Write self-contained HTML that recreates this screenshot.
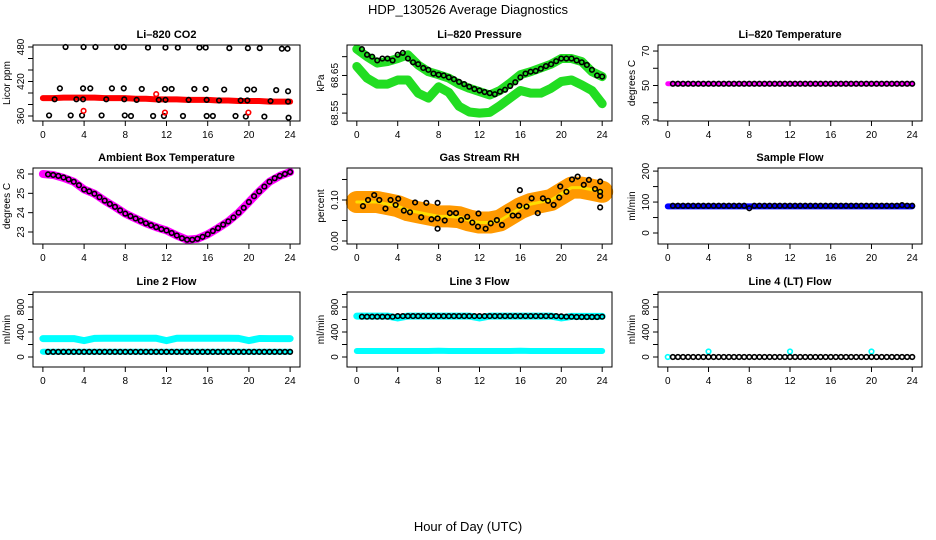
<!DOCTYPE html>
<html><head><meta charset="utf-8"><style>
html,body{margin:0;padding:0;background:#fff;}
svg{display:block;font-family:"Liberation Sans",Arial,sans-serif;}
</style></head><body>
<svg id="c" width="936" height="540" viewBox="0 0 936 540">
<text x="468" y="14" text-anchor="middle" font-size="13">HDP_130526  Average Diagnostics</text>
<text x="468" y="531" text-anchor="middle" font-size="13">Hour of Day (UTC)</text>
</svg>
<script>
// ---- data ----
const xTicks=[0,4,8,12,16,20,24];
const co2Band=[391,391,392,392,392,392,391,391,391,390,390,389,389,389,388,388,388,387,387,386,386,386,385,385,385];
const co2BlackT=[2.2,3.95,5.1,7.2,7.85,10.2,11.9,13.1,15.2,15.8,18.1,19.9,21.05,23.2,23.75,1.65,3.9,4.6,6.7,7.85,9.6,11.85,12.5,14.7,15.8,17.6,19.85,20.5,22.65,23.8,1.14,3.25,3.9,6.15,7.9,9.1,11.25,11.9,14.15,15.9,17.1,19.2,19.85,22.1,23.8,0.6,2.7,3.8,5.7,7.95,8.55,10.7,11.75,13.6,15.9,16.5,18.7,19.7,21.5,23.85];
const co2BlackV=[480,480,480,480,480,479,479,479,479,479,478,478,478,477,477,408,408,408,408,408,407,407,407,407,407,406,406,406,405,403,389,389,389,389,389,388,388,388,388,388,387,387,387,386,385,361,361,361,361,361,360,360,360,360,360,360,360,359,359,357];
const co2RedT=[11.0,3.95,11.85,19.95];
const co2RedV=[398,369,366,366];
const presUpper=[68.72,68.70,68.683,68.687,68.695,68.705,68.678,68.66,68.652,68.643,68.627,68.616,68.607,68.598,68.61,68.63,68.652,68.66,68.67,68.68,68.695,68.695,68.687,68.66,68.647];
const presLower=[68.674,68.643,68.627,68.627,68.638,68.638,68.603,68.59,68.62,68.605,68.568,68.553,68.55,68.552,68.57,68.59,68.61,68.603,68.603,68.616,68.634,68.638,68.625,68.61,68.575];
const presBlack=[68.72,68.705,68.70,68.69,68.695,68.695,68.69,68.705,68.71,68.695,68.685,68.68,68.67,68.665,68.655,68.652,68.65,68.645,68.64,68.633,68.627,68.62,68.614,68.61,68.606,68.603,68.60,68.607,68.612,68.622,68.632,68.645,68.655,68.66,68.662,68.668,68.675,68.68,68.688,68.695,68.695,68.695,68.69,68.685,68.678,68.665,68.65,68.647];
const tempBand=[51,51,51,51,51,51,51,51,51,51,51,51,51,51,51,51,51,51,51,51,51,51,51,51,51];
const tempBlack=[51,51,51,51,51,51,51,51,51,51,51,51,51,51,51,51,51,51,51,51,51,51,51,51,51,51,51,51,51,51,51,51,51,51,51,51,51,51,51,51,51,51,51,51,51,51,51,51];
const ambBand=[26.0,25.95,25.8,25.6,25.2,24.98,24.62,24.3,23.95,23.7,23.45,23.25,23.08,22.82,22.6,22.65,22.88,23.2,23.55,24.0,24.55,25.1,25.6,25.9,26.1];
const ambBlack=[25.98,25.95,25.9,25.82,25.72,25.6,25.42,25.2,25.1,24.98,24.8,24.62,24.45,24.3,24.12,23.95,23.82,23.7,23.58,23.45,23.35,23.25,23.15,23.08,22.95,22.82,22.68,22.6,22.6,22.65,22.75,22.88,23.05,23.2,23.38,23.55,23.75,24.0,24.25,24.55,24.85,25.1,25.35,25.6,25.78,25.9,26.0,26.1];
const rhBand=[0.095,0.095,0.095,0.09,0.085,0.075,0.07,0.065,0.06,0.06,0.058,0.05,0.045,0.045,0.05,0.065,0.08,0.09,0.095,0.1,0.115,0.13,0.13,0.125,0.12];
const rhBlackT=[0.6,1.1,1.7,2.2,2.8,3.3,3.8,4.05,4.6,5.2,5.7,6.3,6.8,7.3,7.9,7.9,7.9,8.6,9.1,9.7,10.2,10.8,11.3,11.85,11.9,12.6,13.1,13.7,14.2,14.75,15.25,15.8,15.9,15.95,16.6,17.1,17.7,18.2,18.7,19.25,19.8,19.9,20.5,21.05,21.6,22.2,22.7,23.3,23.8,23.8,23.8,23.8];
const rhBlackV=[0.085,0.10,0.112,0.10,0.079,0.10,0.088,0.103,0.074,0.07,0.094,0.058,0.093,0.053,0.093,0.055,0.03,0.05,0.068,0.068,0.051,0.059,0.045,0.035,0.067,0.03,0.043,0.051,0.039,0.075,0.062,0.062,0.086,0.124,0.084,0.104,0.068,0.104,0.098,0.088,0.106,0.133,0.12,0.15,0.157,0.137,0.149,0.127,0.145,0.11,0.12,0.082];
const sfBand=[86,86,86,86,86,86,86,86,86,86,86,86,86,86,86,86,86,86,86,86,86,86,86,86,86];
const sfBlack=[88,88,88,88,88,88,88,88,88,88,88,88,88,88,88,80,88,88,88,88,88,88,88,88,88,88,88,88,88,88,88,88,88,88,88,88,88,88,88,88,88,88,88,88,88,90,88,88];
const l2Upper=[295,295,295,295,262,298,300,300,300,300,300,300,262,300,300,300,300,300,300,298,262,296,295,295,295];
const l2Lower=[85,85,85,85,85,85,85,85,85,85,85,85,85,85,85,85,85,85,85,85,85,85,85,85,85];
const l2Black=[82,82,82,82,82,82,82,82,82,82,82,82,82,82,82,82,82,82,82,82,82,82,82,82,82,82,82,82,82,82,82,82,82,82,82,82,82,82,82,82,82,82,82,82,82,82,82,82];
const l3Upper=[655,655,655,655,625,655,655,655,655,655,655,655,625,655,655,655,655,655,655,655,625,650,650,650,650];
const l3Lower=[96,96,96,96,96,96,96,96,100,96,96,96,96,96,96,96,100,96,96,96,96,96,96,96,96];
const l3Black=[645,645,645,645,645,645,645,655,655,655,655,655,655,655,655,655,655,655,655,655,655,655,655,655,655,655,655,655,655,655,655,655,655,655,655,655,655,655,655,650,645,645,640,640,640,640,640,645];
const l4Black=[0,0,0,0,0,0,0,0,0,0,0,0,0,0,0,0,0,0,0,0,0,0,0,0,0,0,0,0,0,0,0,0,0,0,0,0,0,0,0,0,0,0,0,0,0,0,0,0];
const l4CyanT=[0,4,12,20];
const l4CyanV=[0,88,88,88];

const S='http://www.w3.org/2000/svg';
const svg=document.getElementById('c');
function mk(tag,parent){const e=document.createElementNS(S,tag);parent.appendChild(e);return e;}
const hourly=i=>i; const half=i=>0.5*(i+1);

function panel(name,title,ylab,box,ylim,yticks,ylabels){
  const g=mk('g',svg);
  
  
  const [x0,y0,x1,y1]=box;
  const sx=h=>x0+(h+0.96)/25.92*(x1-x0);
  const sy=v=>y1-(v-ylim[0])/(ylim[1]-ylim[0])*(y1-y0);
  const t=mk('text',g);t.textContent=title;
  t.setAttribute('x',(x0+x1)/2);t.setAttribute('y',y0-7);t.setAttribute('text-anchor','middle');
  t.setAttribute('font-size','11');t.setAttribute('font-weight','bold');
  
  
  const yl=mk('text',g);yl.textContent=ylab;
  const ly=(y0+y1)/2;
  yl.setAttribute('transform','translate('+(x0-23)+','+ly+') rotate(-90)');
  yl.setAttribute('text-anchor','middle');yl.setAttribute('font-size','10');
  
  
  const plot=mk('g',g);
  
  
  const ax=mk('g',g);
  
  
  const r=mk('rect',ax);
  r.setAttribute('x',x0);r.setAttribute('y',y0);r.setAttribute('width',x1-x0);r.setAttribute('height',y1-y0);
  r.setAttribute('fill','none');r.setAttribute('stroke','#000');r.setAttribute('stroke-width','1');
  
  
  xTicks.forEach(h=>{
    const l=mk('line',ax);l.setAttribute('x1',sx(h));l.setAttribute('x2',sx(h));l.setAttribute('y1',y1);l.setAttribute('y2',y1+5);l.setAttribute('stroke','#000');
    
    
    const tx=mk('text',ax);tx.textContent=h;tx.setAttribute('x',sx(h));tx.setAttribute('y',y1+17);tx.setAttribute('text-anchor','middle');tx.setAttribute('font-size','10');
    
    
  });
  yticks.forEach((v,i)=>{
    const l=mk('line',ax);l.setAttribute('x1',x0-5);l.setAttribute('x2',x0);l.setAttribute('y1',sy(v));l.setAttribute('y2',sy(v));l.setAttribute('stroke','#000');
    
    
    if(ylabels[i]!==''){
      const tx=mk('text',ax);tx.textContent=ylabels[i];
      tx.setAttribute('transform','translate('+(x0-9)+','+sy(v)+') rotate(-90)');
      tx.setAttribute('text-anchor','middle');tx.setAttribute('font-size','10');
      
      
    }
  });
  return {plot,sx,sy};
}
function band(p,vals,tf,color,w,nm){
  const pl=mk('polyline',p.plot);
  pl.setAttribute('points',vals.map((v,i)=>p.sx(tf(i))+','+p.sy(v)).join(' '));
  pl.setAttribute('fill','none');pl.setAttribute('stroke',color);pl.setAttribute('stroke-width',w);
  pl.setAttribute('stroke-linecap','round');pl.setAttribute('stroke-linejoin','round');
  
  
}
function pts(p,ts,vals,color,nm){
  vals.forEach((v,i)=>{
    const c=mk('circle',p.plot);
    c.setAttribute('cx',p.sx(typeof ts==='function'?ts(i):ts[i]));c.setAttribute('cy',p.sy(v));c.setAttribute('r','2.3');
    c.setAttribute('fill','none');c.setAttribute('stroke',color);c.setAttribute('stroke-width','1.6');
    
    
  });
}
const C1=[33,300],C2=[347,612],C3=[658,922];
const R1=[45,121],R2=[168,244],R3=[292,367];
const bx=(c,r)=>[c[0],r[0],c[1],r[1]];
const flowT=[0,200,400,600,800,1000],flowL=['0','','400','','800',''];

let p=panel('co2','Li\u2013820 CO2','Licor ppm',bx(C1,R1),[351.3,483.5],[360,380,400,420,440,460,480],['360','','','420','','','480']);
band(p,co2Band,hourly,'#ff0000',6,'co2-raw-band');
pts(p,co2BlackT,co2BlackV,'#000','co2-point');
pts(p,co2RedT,co2RedV,'#ff0000','co2-red-point');

p=panel('pressure','Li\u2013820 Pressure','kPa',bx(C2,R1),[68.529,68.731],[68.55,68.60,68.65,68.70],['68.55','','68.65','']);
band(p,presUpper,hourly,'#22dd22',9,'pressure-upper-band');
band(p,presLower,hourly,'#22dd22',9,'pressure-lower-band');
pts(p,half,presBlack,'#000','pressure-point');

p=panel('li820-temp','Li\u2013820 Temperature','degrees C',bx(C3,R1),[29.4,73.5],[30,40,50,60,70],['30','','50','','70']);
band(p,tempBand,hourly,'#ff00ff',5,'li820-temp-band');
pts(p,half,tempBlack,'#000','li820-temp-point');

p=panel('ambient','Ambient Box Temperature','degrees C',bx(C1,R2),[22.38,26.31],[23,24,25,26],['23','24','25','26']);
band(p,ambBand,hourly,'#ff00ff',8,'ambient-band');
pts(p,half,ambBlack,'#000','ambient-point');

p=panel('rh','Gas Stream RH','percent',bx(C2,R2),[-0.0073,0.178],[0,0.05,0.10,0.15],['0.00','','0.10','']);
band(p,rhBand,hourly,'#ff9900',22,'rh-band');
band(p,rhBand,hourly,'#ffdd00',3,'rh-band-core');
pts(p,rhBlackT,rhBlackV,'#000','rh-point');

p=panel('sample-flow','Sample Flow','ml/min',bx(C3,R2),[-35.5,210],[0,50,100,150,200],['0','','100','','200']);
band(p,sfBand,hourly,'#0000ff',6,'sample-flow-band');
pts(p,half,sfBlack,'#000','sample-flow-point');

p=panel('line2','Line 2 Flow','ml/min',bx(C1,R3),[-160,1040],flowT,flowL);
band(p,l2Upper,hourly,'#00ffff',7,'line2-upper-band');
band(p,l2Lower,hourly,'#00ffff',6,'line2-lower-band');
pts(p,half,l2Black,'#000','line2-point');

p=panel('line3','Line 3 Flow','ml/min',bx(C2,R3),[-160,1040],flowT,flowL);
band(p,l3Upper,hourly,'#00ffff',7,'line3-upper-band');
band(p,l3Lower,hourly,'#00ffff',6,'line3-lower-band');
pts(p,half,l3Black,'#000','line3-point');

p=panel('line4','Line 4 (LT) Flow','ml/min',bx(C3,R3),[-160,1040],flowT,flowL);
pts(p,l4CyanT,l4CyanV,'#00ffff','line4-cyan-point');
pts(p,half,l4Black,'#000','line4-point');
</script>
</body></html>
